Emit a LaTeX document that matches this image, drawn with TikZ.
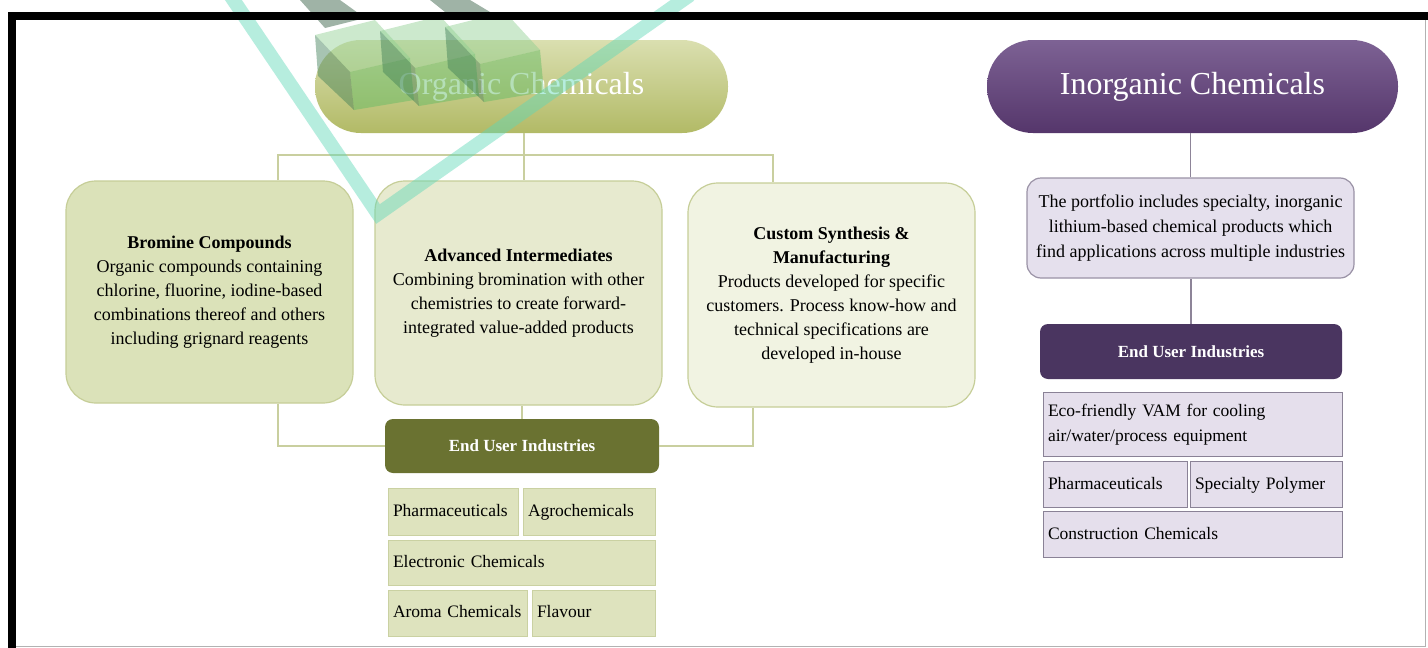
\documentclass[tikz,border=0pt]{standalone}
\usepackage{fontspec}
\setmainfont{Liberation Serif}
\definecolor{olvA}{HTML}{DADFB0}
\definecolor{olvB}{HTML}{B2BA66}
\definecolor{olvdark}{HTML}{6A7231}
\definecolor{bromfill}{HTML}{DBE2B9}
\definecolor{advfill}{HTML}{E7EACF}
\definecolor{custfill}{HTML}{F1F3E2}
\definecolor{olvborder}{HTML}{C6CE98}
\definecolor{olvline}{HTML}{C9CF9F}
\definecolor{olvcell}{HTML}{DEE3BE}
\definecolor{olvcellb}{HTML}{CAD1A2}
\definecolor{purA}{HTML}{7D6294}
\definecolor{purB}{HTML}{55366B}
\definecolor{purdark}{HTML}{4A3560}
\definecolor{purfill}{HTML}{E5E0ED}
\definecolor{purborder}{HTML}{9A92A6}
\definecolor{purcell}{HTML}{E5DFEC}
\definecolor{purcellb}{HTML}{8A8296}
\definecolor{purline}{HTML}{8D8498}
\definecolor{wmark}{HTML}{5ED8B8}
\definecolor{cubeg}{HTML}{5DBA62}
\definecolor{cubed}{HTML}{3E7E55}
\begin{document}
\begin{tikzpicture}[x=1pt,y=-1pt,
  pill/.style={rounded corners=46pt,inner sep=0pt,text=white,font=\fontsize{32}{36}\selectfont},
  obox/.style={draw=olvborder,line width=1.2pt,rounded corners=30pt,inner sep=0pt,
     minimum width=287pt,align=center,font=\fontsize{18}{24}\selectfont},
  oline/.style={draw=olvline,line width=1.6pt},
  pline/.style={draw=purline,line width=1.6pt},
  eubox/.style={rounded corners=8pt,inner sep=0pt,text=white,font=\fontsize{17}{20}\selectfont\bfseries},
  ocell/.style={fill=olvcell,draw=olvcellb,line width=0.8pt,inner xsep=5pt,inner ysep=0pt,
     align=left,font=\fontsize{17.5}{24}\selectfont,anchor=center},
  pcell/.style={fill=purcell,draw=purcellb,line width=0.8pt,inner xsep=5pt,inner ysep=0pt,
     align=left,font=\fontsize{17.5}{25}\selectfont,anchor=center}
]
\useasboundingbox (0,0) rectangle (1428,648);
\fill[white] (0,0) rectangle (1428,648);

% ---------- Organic side ----------
\node[pill,top color=olvA,bottom color=olvB,minimum width=413pt,minimum height=93pt] (org) at (521.5,86.5) {Organic Chemicals};

\node[obox,fill=bromfill,minimum height=222pt] (brom) at (209.5,292)
 {\textbf{Bromine Compounds}\\Organic compounds containing\\chlorine, fluorine, iodine-based\\combinations thereof and others\\including grignard reagents};
\node[obox,fill=advfill,minimum height=224pt] (adv) at (518.5,293)
 {\textbf{Advanced Intermediates}\\Combining bromination with other\\chemistries to create forward-\\integrated value-added products};
\node[obox,fill=custfill,minimum height=224pt] (cust) at (831.5,295)
 {\textbf{Custom Synthesis \&}\\\textbf{Manufacturing}\\Products developed for specific\\customers. Process know-how and\\technical specifications are\\developed in-house};

\coordinate (ojoin) at (524,155);
\coordinate (j1) at (278,155);
\coordinate (j3) at (773,155);
\coordinate (k3) at (753,448);

\draw[oline] (org.south -| ojoin) -- (ojoin);
\draw[oline] (j1 |- brom.north) -- (j1) -- (j3) -- (j3 |- cust.north);
\draw[oline] (ojoin) -- (ojoin |- adv.north);

\node[eubox,fill=olvdark,minimum width=274pt,minimum height=54pt] (eu) at (522,446) {End User Industries};

\draw[oline] (j1 |- brom.south) |- (eu.west);
\draw[oline] (k3 |- cust.south) |- (eu.east);
\draw[oline] (eu.north) -- (eu.north |- adv.south);

\node[ocell,text width=120pt,minimum height=47pt] (oph) at (453,511.5) {\strut\mbox{Pharmaceuticals}};
\node[ocell,text width=122pt,minimum height=47pt] (oag) at (589,511.5) {\strut\mbox{Agrochemicals}};
\node[ocell,text width=257pt,minimum height=45pt] (oel) at (521.5,562.5) {\strut\mbox{Electronic Chemicals}};
\node[ocell,text width=129pt,minimum height=46pt] (oar) at (457.5,613) {\strut\mbox{Aroma Chemicals}};
\node[ocell,text width=113pt,minimum height=46pt] (ofl) at (593.5,613) {\strut\mbox{Flavour}};

% ---------- Inorganic side ----------
\node[pill,top color=purA,bottom color=purB,minimum width=411pt,minimum height=93pt] (inorg) at (1192.5,86.5) {Inorganic Chemicals};

\node[draw=purborder,fill=purfill,line width=1.2pt,rounded corners=14pt,inner sep=0pt,
  minimum width=327pt,minimum height=100pt,align=center,font=\fontsize{18}{25}\selectfont] (port) at (1190.5,228)
 {The portfolio includes specialty, inorganic\\lithium-based chemical products which\\find applications across multiple industries};

\draw[pline] (port.north) -- (port.north |- inorg.south);

\node[eubox,fill=purdark,minimum width=302pt,minimum height=55pt] (peu) at (1191,351.5) {End User Industries};
\draw[pline] (peu.north) -- (peu.north |- port.south);

\node[pcell,text width=289pt,minimum height=64pt] (peco) at (1192.5,424) {\strut Eco-friendly VAM for cooling\\air/water/process equipment\strut};
\node[pcell,text width=134pt,minimum height=46pt] (pph) at (1115,484) {\strut\mbox{Pharmaceuticals}};
\node[pcell,text width=142pt,minimum height=46pt] (psp) at (1266,484) {\strut\mbox{Specialty Polymer}};
\node[pcell,text width=289pt,minimum height=46pt] (pcon) at (1192.5,534) {\strut\mbox{Construction Chemicals}};

% ---------- watermark ----------
\begin{scope}[opacity=0.45]
\draw[wmark,line width=14pt,line join=miter] (230,-5) -- (378,214) -- (690,-5);
\foreach \dx/\dy in {0/0,65/-4,130/-8}{
  \begin{scope}[shift={(\dx,\dy)}]
   \fill[cubeg!70!white] (315,35) -- (375,20) -- (410,58) -- (350,72) -- cycle;
   \fill[cubeg] (350,72) -- (410,58) -- (414,100) -- (354,110) -- cycle;
   \fill[cubed] (315,35) -- (350,72) -- (354,110) -- (318,76) -- cycle;
  \end{scope}}
\fill[cubed!70!black] (300,0) -- (340,0) -- (365,18) -- (325,28) -- cycle;
\fill[cubed!70!black] (430,0) -- (470,0) -- (490,12) -- (455,20) -- cycle;
\end{scope}

% ---------- frame ----------
\fill[black] (8,12) rectangle (1428,20);
\fill[black] (8,12) rectangle (16,648);
\draw[gray!60,line width=1pt] (1425,20) -- (1425,646) -- (16,646);
\end{tikzpicture}
\end{document}
